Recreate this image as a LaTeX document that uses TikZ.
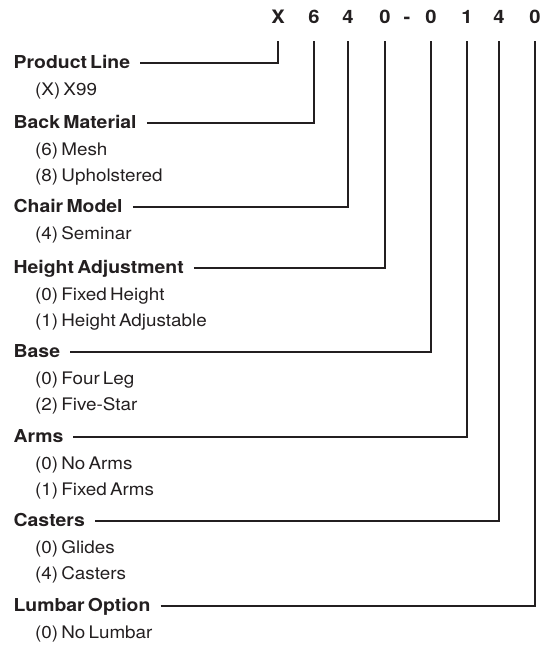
\documentclass[tikz,border=0pt]{standalone}
\usepackage{fontspec}
\setmainfont{TeX Gyre Heros}[FakeStretch=1.09, WordSpace=0.6]
\usetikzlibrary{positioning}
\definecolor{ink}{RGB}{35,31,32}

\begin{document}
\begin{tikzpicture}[x=1pt, y=-1pt, font=\fontsize{17.3}{20}\selectfont, text=ink,
  code/.style={font=\fontsize{18.5}{20}\selectfont\bfseries, anchor=base, inner sep=0pt},
  head/.style={font=\fontsize{17.8}{20}\selectfont\bfseries, anchor=base west, inner sep=0pt},
  opt/.style={anchor=base west, inner sep=0pt},
  link/.style={draw=ink, line width=2pt}]
  \useasboundingbox (0,0) rectangle (542,645);
  % part number
  \node[code] (kLine)   at (278,23.5) {X};
  \node[code] (kBack)   at (314,23.5) {6};
  \node[code] (kModel)  at (348,23.5) {4};
  \node[code] (kHeight) at (385,23.5) {0};
  \node[code] (kDash)   at (407,23.5) {-};
  \node[code] (kBase)   at (431,23.5) {0};
  \node[code] (kArms)   at (467,23.5) {1};
  \node[code] (kCast)   at (499,23.5) {4};
  \node[code] (kLumb)   at (535,23.5) {0};
  % headings and options
  \node[head] (line) at (13.5,68.5) {Product Line};
  \node[opt] at (35,95) {(X) X99};
  \node[head] (back) at (13.5,128.5) {Back Material};
  \node[opt] at (35,155) {(6) Mesh};
  \node[opt] at (35,181) {(8) Upholstered};
  \node[head] (model) at (13.5,212.5) {Chair Model};
  \node[opt] at (35,239) {(4) Seminar};
  \node[head] (height) at (13.5,273.5) {Height Adjustment};
  \node[opt] at (35,300) {(0) Fixed Height};
  \node[opt] at (35,326) {(1) Height Adjustable};
  \node[head] (base) at (13.5,357.5) {Base};
  \node[opt] at (35,384) {(0) Four Leg};
  \node[opt] at (35,410) {(2) Five-Star};
  \node[head] (arms) at (13.5,442.5) {Arms};
  \node[opt] at (35,469) {(0) No Arms};
  \node[opt] at (35,495) {(1) Fixed Arms};
  \node[head] (cast) at (13.5,526.5) {Casters};
  \node[opt] at (35,553) {(0) Glides};
  \node[opt] at (35,579) {(4) Casters};
  \node[head] (lumb) at (13.5,611.5) {Lumbar Option};
  \node[opt] at (35,638) {(0) No Lumbar};
  % leader lines
  \foreach \h/\k in {line/kLine, back/kBack, model/kModel, height/kHeight,
                     base/kBase, arms/kArms, cast/kCast, lumb/kLumb}
    \draw[link] ([xshift=10pt, yshift=5.5pt]\h.base east) -| ([yshift=-17pt]\k.base);
\end{tikzpicture}
\end{document}
